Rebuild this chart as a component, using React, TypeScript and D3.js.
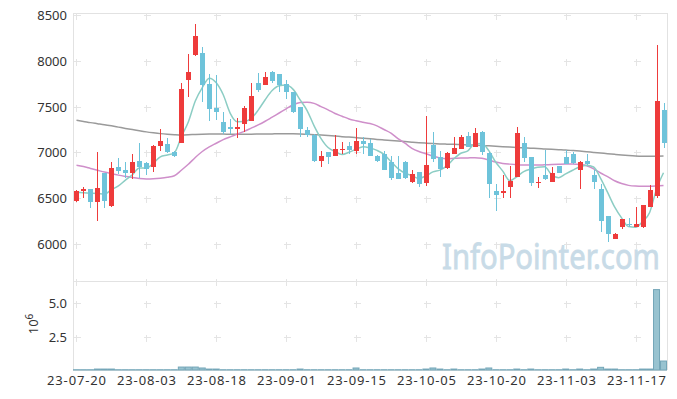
import { useEffect, useRef } from "react";
import * as d3 from "d3";

const dates = [
  "23-07-20", "23-07-21", "23-07-24", "23-07-25", "23-07-26", "23-07-27", "23-07-28", "23-07-31",
  "23-08-01", "23-08-02", "23-08-03", "23-08-04", "23-08-07", "23-08-08", "23-08-09", "23-08-10",
  "23-08-11", "23-08-14", "23-08-16", "23-08-17", "23-08-18", "23-08-21", "23-08-22", "23-08-23",
  "23-08-24", "23-08-25", "23-08-28", "23-08-29", "23-08-30", "23-08-31", "23-09-01", "23-09-04",
  "23-09-05", "23-09-06", "23-09-07", "23-09-08", "23-09-11", "23-09-12", "23-09-13", "23-09-14",
  "23-09-15", "23-09-18", "23-09-19", "23-09-20", "23-09-21", "23-09-22", "23-09-25", "23-09-26",
  "23-09-27", "23-10-04", "23-10-05", "23-10-06", "23-10-10", "23-10-11", "23-10-12", "23-10-13",
  "23-10-16", "23-10-17", "23-10-18", "23-10-19", "23-10-20", "23-10-23", "23-10-24", "23-10-25",
  "23-10-26", "23-10-27", "23-10-30", "23-10-31", "23-11-01", "23-11-02", "23-11-03", "23-11-06",
  "23-11-07", "23-11-08", "23-11-09", "23-11-10", "23-11-13", "23-11-14", "23-11-15", "23-11-16",
  "23-11-17", "23-11-20", "23-11-21", "23-11-22", "23-11-23",
];

const open = [
  6470, 6580, 6600, 6460, 6770, 6410, 6840, 6810, 6780, 6905, 6880, 6845, 7075, 7090, 7005, 7105,
  7785, 8060, 8090, 7745, 7485, 7330, 7275, 7260, 7305, 7345, 7760, 7740, 7880, 7855, 7745, 7655,
  7495, 7250, 7195, 6910, 7005, 6965, 7025, 7075, 7020, 7125, 7100, 6965, 6985, 6890, 6775, 6890,
  6680, 6785, 6665, 7080, 6945, 6825, 6985, 7040, 7175, 7060, 7225, 6995, 6580, 6555, 6625, 6735,
  7105, 6945, 6670, 6755, 6680, 6850, 6945, 6980, 6810, 6905, 6755, 6600, 6305, 6060, 6190, 6215,
  6190, 6185, 6405, 6520, 7460,
];
const high = [
  6590, 6620, 6600, 7000, 6780, 6900, 6935, 6900, 6980, 7100, 6890, 7080, 7255, 7160, 7010, 7755,
  8070, 8400, 8150, 7855, 7850, 7445, 7365, 7375, 7510, 7755, 7865, 7875, 7885, 7860, 7790, 7660,
  7500, 7280, 7200, 7015, 7005, 7190, 7115, 7115, 7265, 7170, 7145, 6970, 7010, 6965, 6960, 6910,
  6805, 6790, 7395, 7225, 7010, 7000, 7170, 7195, 7220, 7265, 7230, 7000, 6660, 6755, 6855, 7280,
  7165, 6950, 6730, 7025, 6845, 6855, 7025, 7005, 6905, 6980, 6810, 6660, 6310, 6115, 6275, 6285,
  6405, 6430, 6645, 8170, 7535,
];
const low = [
  6460, 6500, 6390, 6250, 6390, 6400, 6765, 6720, 6710, 6720, 6750, 6790, 7020, 6995, 6945, 7100,
  7600, 8055, 7545, 7345, 7355, 7205, 7200, 7160, 7220, 7345, 7655, 7735, 7755, 7660, 7580, 7435,
  7170, 7170, 6900, 6840, 6875, 6960, 6985, 6985, 6985, 6985, 6960, 6900, 6810, 6700, 6705, 6705,
  6665, 6625, 6635, 6900, 6730, 6820, 6980, 7035, 7055, 7055, 6970, 6505, 6365, 6500, 6500, 6730,
  6900, 6635, 6610, 6700, 6675, 6770, 6870, 6875, 6595, 6865, 6595, 6135, 6025, 6055, 6160, 6190,
  6185, 6180, 6400, 6500, 7045,
];
const close = [
  6580, 6600, 6460, 6610, 6470, 6830, 6800, 6780, 6900, 6840, 6815, 7075, 7125, 7000, 6965, 7690,
  7880, 8270, 7735, 7475, 7440, 7225, 7260, 7275, 7480, 7615, 7680, 7825, 7775, 7740, 7655, 7445,
  7255, 7190, 6905, 6960, 6955, 7035, 7035, 7025, 7120, 7095, 6965, 6905, 6810, 6725, 6710, 6720,
  6765, 6660, 6860, 6930, 6820, 6995, 7045, 7165, 7060, 7210, 7000, 6660, 6530, 6580, 6690, 7210,
  6940, 6670, 6680, 6710, 6780, 6780, 6875, 6880, 6900, 6870, 6680, 6255, 6110, 6110, 6270, 6205,
  6215, 6425, 6590, 7560, 7100,
];
const volume = [
  20000, 20000, 20000, 70000, 70000, 70000, 20000, 20000, 20000, 20000, 20000, 20000, 20000, 20000, 20000, 220000,
  220000, 220000, 150000, 70000, 70000, 20000, 20000, 20000, 20000, 20000, 20000, 20000, 20000, 20000, 20000, 20000,
  70000, 20000, 20000, 20000, 20000, 20000, 20000, 20000, 150000, 20000, 20000, 20000, 20000, 20000, 20000, 20000,
  20000, 20000, 70000, 150000, 70000, 20000, 70000, 20000, 20000, 20000, 70000, 150000, 20000, 20000, 20000, 70000,
  20000, 70000, 20000, 20000, 20000, 20000, 70000, 20000, 70000, 20000, 70000, 200000, 70000, 70000, 20000, 20000,
  20000, 70000, 70000, 6000000, 670000,
];
const ma5 = [
  6565, 6560, 6555, 6550, 6544, 6594, 6634, 6698, 6756, 6830, 6827, 6882, 6951, 6971, 6996, 7171,
  7332, 7561, 7708, 7810, 7760, 7629, 7427, 7335, 7336, 7371, 7462, 7575, 7675, 7727, 7735, 7688,
  7574, 7457, 7290, 7151, 7053, 7009, 6978, 7002, 7034, 7062, 7048, 7022, 6979, 6900, 6823, 6774,
  6746, 6716, 6743, 6787, 6807, 6853, 6930, 6991, 7017, 7095, 7096, 7019, 6892, 6796, 6692, 6734,
  6790, 6818, 6838, 6842, 6756, 6724, 6765, 6805, 6843, 6861, 6841, 6717, 6563, 6405, 6285, 6190,
  6182, 6245, 6341, 6599, 6778,
];
const ma20 = [
  6860, 6845, 6825, 6805, 6785, 6768, 6752, 6738, 6725, 6715, 6710, 6712, 6718, 6728, 6745, 6805,
  6870, 6945, 7010, 7060, 7100, 7140, 7170, 7200, 7230, 7265, 7300, 7340, 7385, 7430, 7475, 7520,
  7545, 7548, 7535, 7500, 7465, 7425, 7395, 7365, 7346, 7330, 7315, 7290, 7250, 7210, 7150, 7100,
  7045, 7010, 6985, 6960, 6940, 6932, 6935, 6938, 6940, 6942, 6935, 6917, 6895, 6880, 6872, 6866,
  6863, 6862, 6862, 6865, 6868, 6871, 6873, 6873, 6868, 6855, 6820, 6775, 6735, 6690, 6660, 6640,
  6632, 6630, 6630, 6633, 6638,
];
const ma120 = [
  7350, 7338, 7325, 7314, 7303, 7290, 7276, 7262, 7249, 7236, 7224, 7214, 7205, 7198, 7193, 7190,
  7192, 7196, 7199, 7200, 7200, 7200, 7199, 7199, 7199, 7199, 7200, 7201, 7202, 7203, 7203, 7203,
  7202, 7198, 7194, 7190, 7185, 7179, 7172, 7167, 7161, 7155, 7149, 7142, 7136, 7130, 7124, 7118,
  7112, 7106, 7101, 7097, 7093, 7090, 7088, 7085, 7082, 7079, 7076, 7072, 7068, 7063, 7058, 7054,
  7050, 7046, 7043, 7038, 7034, 7030, 7026, 7020, 7014, 7007, 7000, 6993, 6986, 6979, 6972, 6966,
  6961, 6958, 6957, 6958, 6960,
];

const dateTicks = ["23-07-20", "23-08-03", "23-08-18", "23-09-01", "23-09-15", "23-10-05", "23-10-20", "23-11-03", "23-11-17"];
const priceTicks = [6000, 6500, 7000, 7500, 8000, 8500];
const volumeTicks = [2500000, 5000000];

const W = 677;
const H = 399;

export default function App() {
  const svgRef = useRef<SVGSVGElement>(null);

  useEffect(() => {
    if (!svgRef.current) return;
    const svg = d3.select(svgRef.current);
    svg.selectAll("*").remove();

    const left = 73;
    const right = 667;
    const top = 13;
    const split = 281;
    const bottom = 370;
    const font = "'Noto Sans', 'DejaVu Sans', sans-serif";
    const textColor = "#333";
    const lineColor = "#e2e2e2";
    const up = "#ee3b3b";
    const down = "#6ec3da";

    const rows = dates.map((d, i) => ({
      date: d,
      open: open[i],
      high: high[i],
      low: low[i],
      close: close[i],
      volume: volume[i],
    }));

    const x = d3.scaleBand<string>().domain(dates).range([left, right]).padding(0);
    const cx = (d: string) => Math.round((x(d) || 0) + x.bandwidth() / 2) + 0.5;
    const y = d3.scaleLinear().domain([6000, 8500]).range([244, 15]);
    const yv = d3.scaleLinear().domain([0, 5000000]).range([bottom, 303]);

    // watermark, stretched to the reference width
    const mark = svg
      .append("text")
      .attr("text-anchor", "start")
      .style("font-family", font)
      .style("font-size", "34px")
      .style("fill", "#c8dbe7")
      .style("stroke", "#c8dbe7")
      .style("stroke-width", "0.8px")
      .text("InfoPointer.com");
    const natural = (mark.node() as SVGTextElement).getComputedTextLength() || 218;
    mark.attr("transform", `translate(442,269) scale(${218 / natural},1)`);

    // frame lines
    const frame = svg.append("g").attr("stroke", lineColor).attr("stroke-width", 1).attr("shape-rendering", "crispEdges");
    frame.append("line").attr("x1", left).attr("x2", right).attr("y1", top + 0.5).attr("y2", top + 0.5);
    frame.append("line").attr("x1", left).attr("x2", right).attr("y1", split + 0.5).attr("y2", split + 0.5);
    frame.append("line").attr("x1", left).attr("x2", right).attr("y1", bottom + 0.5).attr("y2", bottom + 0.5);
    frame.append("line").attr("x1", left + 0.5).attr("x2", left + 0.5).attr("y1", top).attr("y2", bottom);
    frame.append("line").attr("x1", right + 0.5).attr("x2", right + 0.5).attr("y1", top).attr("y2", bottom);

    // grid crosses
    const crossY = [...priceTicks.map((p) => y(p)), split, ...volumeTicks.map((v) => yv(v))];
    const crosses = svg.append("g").attr("stroke", "#e4e4e4").attr("shape-rendering", "crispEdges");
    dateTicks.forEach((d) => {
      crossY.forEach((yy) => {
        const px = cx(d);
        const py = Math.round(yy) + 0.5;
        crosses.append("line").attr("x1", px - 3).attr("x2", px + 4).attr("y1", py).attr("y2", py);
        crosses.append("line").attr("x1", px).attr("x2", px).attr("y1", py - 3).attr("y2", py + 4);
      });
    });

    // moving averages
    const maLine = (vals: number[]) =>
      d3
        .line<number>()
        .x((_, i) => (x(dates[i]) || 0) + x.bandwidth() / 2)
        .y((v) => y(v))
        .curve(d3.curveMonotoneX)(vals);

    const mas: [number[], string][] = [
      [ma120, "#9a9a9a"],
      [ma20, "#cf8fca"],
      [ma5, "#8ccdc4"],
    ];
    mas.forEach(([vals, color]) => {
      svg
        .append("path")
        .attr("d", maLine(vals) || "")
        .attr("fill", "none")
        .attr("stroke", color)
        .attr("stroke-width", 1.5);
    });

    // candles
    const candles = svg.append("g").attr("shape-rendering", "crispEdges");
    candles
      .selectAll("line.wick")
      .data(rows)
      .join("line")
      .attr("class", "wick")
      .attr("x1", (d) => cx(d.date))
      .attr("x2", (d) => cx(d.date))
      .attr("y1", (d) => y(d.high))
      .attr("y2", (d) => y(d.low))
      .attr("stroke", (d) => (d.close >= d.open ? up : down))
      .attr("stroke-width", 1);

    candles
      .selectAll("rect.body")
      .data(rows)
      .join("rect")
      .attr("class", "body")
      .attr("x", (d) => cx(d.date) - 2.5)
      .attr("width", 5)
      .attr("y", (d) => y(Math.max(d.open, d.close)))
      .attr("height", (d) => Math.max(1, Math.abs(y(d.open) - y(d.close))))
      .attr("fill", (d) => (d.close >= d.open ? up : down));

    // volume bars
    svg
      .append("g")
      .selectAll("rect")
      .data(rows)
      .join("rect")
      .attr("x", (d) => (x(d.date) || 0) + 0.5)
      .attr("width", x.bandwidth() - 1)
      .attr("y", (d) => yv(d.volume))
      .attr("height", (d) => bottom - yv(d.volume))
      .attr("fill", "#98c3d0")
      .attr("stroke", "#74a6b8")
      .attr("stroke-width", 1);

    // y labels
    const labels = svg
      .append("g")
      .style("font-family", font)
      .style("font-size", "13px")
      .style("fill", textColor);

    labels
      .selectAll("text.price")
      .data(priceTicks)
      .join("text")
      .attr("class", "price")
      .attr("x", 67)
      .attr("y", (d) => y(d))
      .attr("text-anchor", "end")
      .attr("dominant-baseline", "central")
      .text((d) => String(d));

    labels
      .selectAll("text.vol")
      .data(volumeTicks)
      .join("text")
      .attr("class", "vol")
      .attr("x", 67)
      .attr("y", (d) => yv(d))
      .attr("text-anchor", "end")
      .attr("dominant-baseline", "central")
      .text((d) => (d / 1000000).toFixed(1));

    const unit = labels
      .append("text")
      .attr("transform", "translate(38,324) rotate(-90)")
      .attr("text-anchor", "middle");
    unit.append("tspan").text("10");
    unit.append("tspan").attr("dy", -5).style("font-size", "10px").text("6");

    // x labels
    labels
      .selectAll("text.date")
      .data(dateTicks)
      .join("text")
      .attr("class", "date")
      .attr("x", (d) => cx(d))
      .attr("y", 385)
      .attr("text-anchor", "middle")
      .attr("textLength", 59)
      .attr("lengthAdjust", "spacing")
      .text((d) => d);
  }, []);

  return <svg ref={svgRef} width={W} height={H} style={{ display: "block", position: "absolute", left: 0, top: 0 }} />;
}
